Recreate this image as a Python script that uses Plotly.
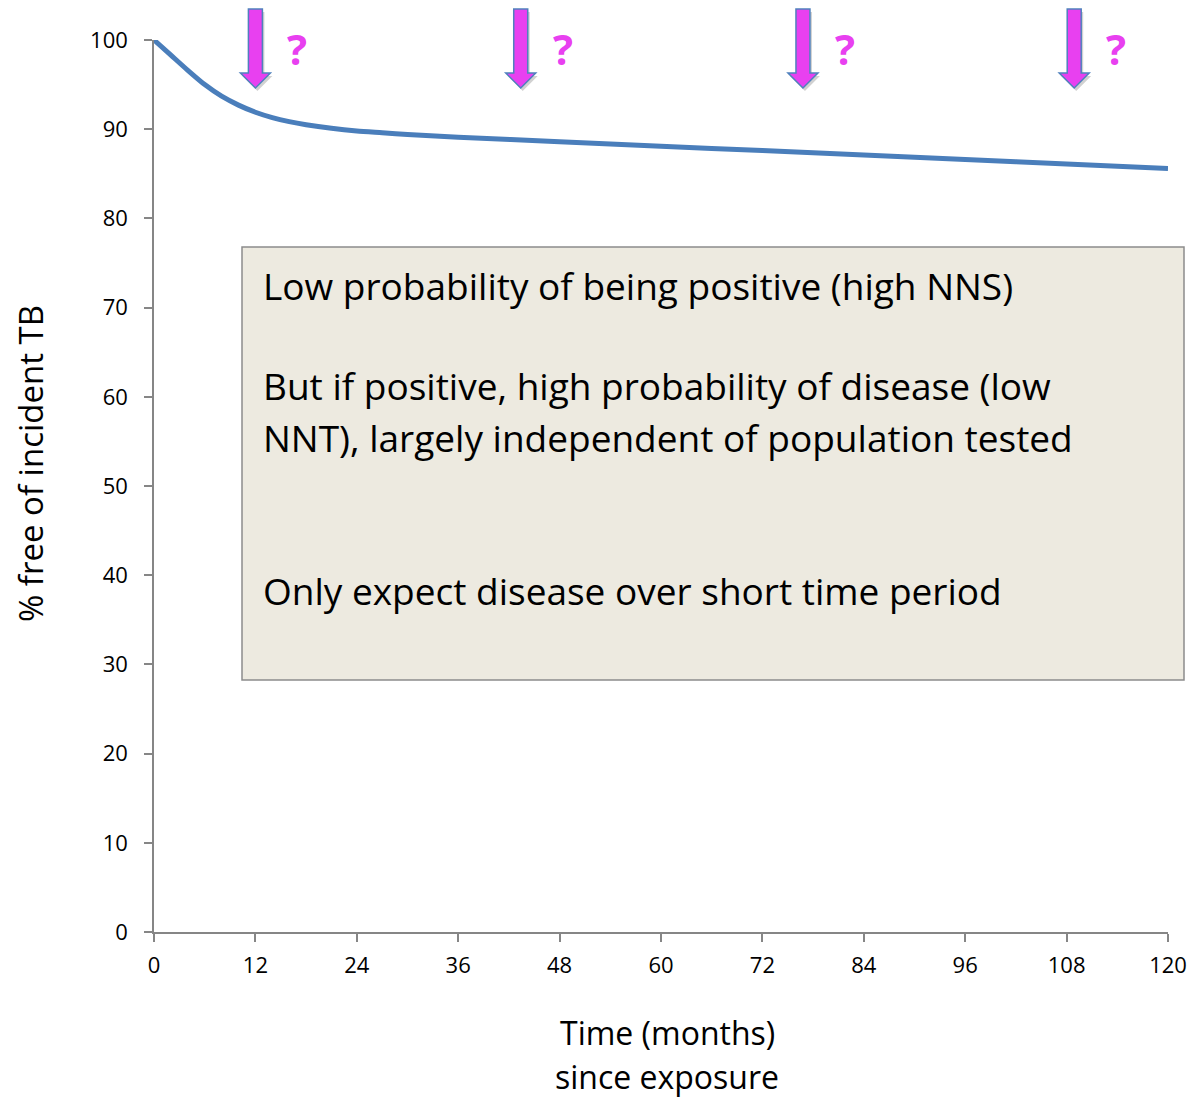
import plotly.graph_objects as go

# Survival curve: % free of incident TB by months since exposure
months = [0, 2, 4, 6, 8, 10, 12, 14, 16, 18, 21, 24, 27, 30, 36, 48, 60, 72, 84, 96, 108, 120]
pct_free = [100, 98.3, 96.6, 95.0, 93.7, 92.7, 91.9, 91.3, 90.85, 90.5, 90.1, 89.8,
            89.6, 89.4, 89.1, 88.6, 88.1, 87.6, 87.1, 86.6, 86.1, 85.6]

# Candidate testing times, marked with arrows
arrow_months = [12, 43.4, 76.8, 108.9]

x_ticks = [0, 12, 24, 36, 48, 60, 72, 84, 96, 108, 120]
y_ticks = [0, 10, 20, 30, 40, 50, 60, 70, 80, 90, 100]

box_lines = [
    "Low probability of being positive (high NNS)",
    "But if positive, high probability of disease (low",
    "NNT), largely independent of population tested",
    "Only expect disease over short time period",
]
box_line_y = [0.7253, 0.6132, 0.5549, 0.3823]

FONT = "Open Sans, sans-serif"
AXIS_GREY = "#868686"
LINE_BLUE = "#4A7EBB"
MAGENTA = "#E840F0"

W, H = 1191, 1099
M_L, M_R, M_T, M_B = 154, 23, 40, 167
plot_w = W - M_L - M_R
plot_h = H - M_T - M_B

fig = go.Figure()
fig.add_trace(go.Scatter(
    x=months, y=pct_free, mode="lines",
    line=dict(color=LINE_BLUE, width=5, shape="spline", smoothing=0.7),
    cliponaxis=False, hoverinfo="skip", showlegend=False,
))

shapes = []
annotations = []

# Text box
shapes.append(dict(
    type="rect", xref="paper", yref="paper",
    x0=(242 - M_L) / plot_w, x1=(1184 - M_L) / plot_w,
    y0=(M_T + plot_h - 680) / plot_h, y1=(M_T + plot_h - 247) / plot_h,
    fillcolor="#EDEAE0", line=dict(color="#8C8C8C", width=1.5), layer="below",
))
for txt, yy in zip(box_lines, box_line_y):
    annotations.append(dict(
        text=txt, xref="paper", yref="paper", x=(261 - M_L) / plot_w, y=yy,
        xanchor="left", yanchor="middle", showarrow=False,
        font=dict(family=FONT, size=37, color="black"),
    ))


def arrow_path(xc, dx=0.0, dy=0.0):
    """Block arrow pointing down, in paper coords, centred on paper x xc."""
    sw = 7 / plot_w
    hw = 15 / plot_w
    top = (M_T + plot_h - 9) / plot_h
    neck = (M_T + plot_h - 73) / plot_h
    tip = (M_T + plot_h - 88) / plot_h
    ox = dx / plot_w
    oy = dy / plot_h
    pts = [(xc - sw, top), (xc + sw, top), (xc + sw, neck), (xc + hw, neck),
           (xc, tip), (xc - hw, neck), (xc - sw, neck)]
    return "M " + " L ".join(f"{px + ox:.5f},{py + oy:.5f}" for px, py in pts) + " Z"


for m in arrow_months:
    xc = m / 120
    # soft drop shadow
    shapes.append(dict(type="path", xref="paper", yref="paper", path=arrow_path(xc, 2, -3),
                       fillcolor="rgba(0,0,0,0.18)", line=dict(width=0)))
    shapes.append(dict(type="path", xref="paper", yref="paper", path=arrow_path(xc),
                       fillcolor=MAGENTA, line=dict(color="#4F81BD", width=1.5)))
    annotations.append(dict(
        text="<b>?</b>", xref="paper", yref="paper",
        x=xc + 42 / plot_w, y=(M_T + plot_h - 48) / plot_h,
        xanchor="center", yanchor="middle", showarrow=False,
        font=dict(family=FONT, size=42, color=MAGENTA),
    ))

# Axis titles
annotations.append(dict(
    text="% free of incident TB", xref="paper", yref="paper",
    x=(30 - M_L) / plot_w, y=(M_T + plot_h - 464) / plot_h,
    xanchor="center", yanchor="middle", textangle=-90, showarrow=False,
    font=dict(family=FONT, size=33, color="black"),
))
for txt, py in [("Time (months)", 1032), ("since exposure", 1076)]:
    annotations.append(dict(
        text=txt, xref="paper", yref="paper",
        x=(667 - M_L) / plot_w, y=(M_T + plot_h - py) / plot_h,
        xanchor="center", yanchor="middle", showarrow=False,
        font=dict(family=FONT, size=32, color="black"),
    ))

axis_common = dict(
    showgrid=False, zeroline=False, showline=True, linecolor=AXIS_GREY, linewidth=1.5,
    ticks="outside", ticklen=8, tickwidth=1.5, tickcolor=AXIS_GREY, automargin=False,
    tickfont=dict(family=FONT, size=22, color="black"),
)

fig.update_layout(
    template="none",
    width=W, height=H,
    margin=dict(l=M_L, r=M_R, t=M_T, b=M_B, autoexpand=False),
    paper_bgcolor="white", plot_bgcolor="white",
    xaxis=dict(range=[0, 120], tickvals=x_ticks, ticktext=[str(v) for v in x_ticks],
               ticklabelstandoff=5, **axis_common),
    yaxis=dict(range=[0, 100], tickvals=y_ticks, ticktext=[str(v) for v in y_ticks],
               ticklabelstandoff=12, **axis_common),
    shapes=shapes, annotations=annotations,
    showlegend=False,
)

fig.write_html("out.html")
